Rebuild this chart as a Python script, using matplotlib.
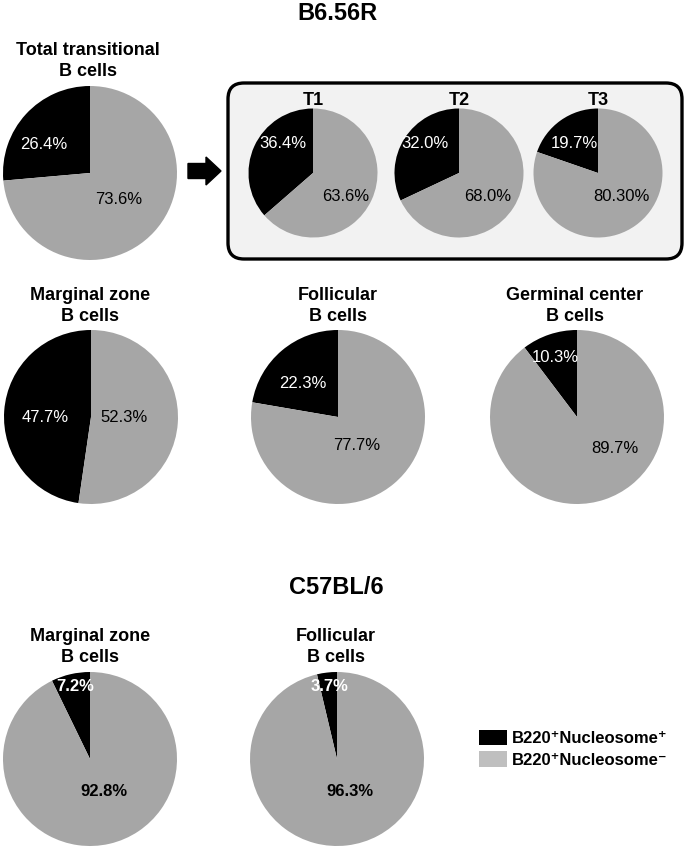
import matplotlib
matplotlib.use("Agg")
import matplotlib.pyplot as plt
from matplotlib.patches import FancyBboxPatch, FancyArrow, Patch

W, H = 685, 850
FONT = ['Liberation Sans Narrow', 'Liberation Sans', 'DejaVu Sans']
plt.rcParams['font.family'] = FONT

BLACK = '#000000'
GREY = '#a6a6a6'
LEGEND_GREY = '#bfbfbf'

# data
titles = ['Total transitional\nB cells', 'T1', 'T2', 'T3',
          'Marginal zone\nB cells', 'Follicular\nB cells', 'Germinal center\nB cells',
          'Marginal zone\nB cells', 'Follicular\nB cells']
pos_pct = [26.4, 36.4, 32.0, 19.7, 47.7, 22.3, 10.3, 7.2, 3.7]
neg_pct = [73.6, 63.6, 68.0, 80.3, 52.3, 77.7, 89.7, 92.8, 96.3]
pos_labels = ['26.4%', '36.4%', '32.0%', '19.7%', '47.7%', '22.3%', '10.3%', '7.2%', '3.7%']
neg_labels = ['73.6%', '63.6%', '68.0%', '80.30%', '52.3%', '77.7%', '89.7%', '92.8%', '96.3%']
strain_titles = ['B6.56R', 'C57BL/6']
legend_labels = ['B220\u207aNucleosome\u207a', 'B220\u207aNucleosome\u207b']

# layout (pixels from the top-left corner)
centers = [(90, 173), (313, 173), (459, 173), (598, 173),
           (91, 417), (338, 417), (577, 417),
           (90, 759), (337, 759)]
radii = [87, 64.5, 64.5, 64.5, 87, 87, 87, 87, 87]
title_pos = [(88, 61), (313, 100), (459, 100), (598, 100),
             (90, 306), (338, 306), (575, 306),
             (90, 647), (336, 647)]
# label offsets in units of the radius
pos_off = [(-0.53, 0.33), (-0.47, 0.45), (-0.53, 0.45), (-0.36, 0.45),
           (-0.53, 0.0), (-0.40, 0.39), (-0.25, 0.68),
           (-0.17, 0.83), (-0.08, 0.83)]
neg_off = [(0.33, -0.31), (0.50, -0.37), (0.45, -0.37), (0.36, -0.37),
           (0.38, 0.0), (0.21, -0.33), (0.44, -0.36),
           (0.16, -0.37), (0.15, -0.37)]
bold_labels = [False] * 7 + [True] * 2


def Y(p):
    return H - p


fig = plt.figure(figsize=(W / 100, H / 100), dpi=100)
ax = fig.add_axes([0, 0, 1, 1])

# T1-T3 panel
box = FancyBboxPatch((228, Y(259)), 454, 176,
                     boxstyle='round,pad=0,rounding_size=16',
                     fc='#f2f2f2', ec='black', lw=2.4, zorder=0)
ax.add_patch(box)
ax.add_patch(FancyArrow(188, Y(171), 33, 0, width=15, head_width=28,
                        head_length=15, length_includes_head=True,
                        color='black', zorder=1))

for i in range(len(titles)):
    cx, cy = centers[i]
    r = radii[i]
    ax.pie([pos_pct[i], neg_pct[i]], colors=[BLACK, GREY], startangle=90,
           counterclock=True, center=(cx, Y(cy)), radius=r,
           wedgeprops=dict(linewidth=0))
    w = 'bold' if bold_labels[i] else 'normal'
    ax.text(cx + pos_off[i][0] * r, Y(cy) + pos_off[i][1] * r, pos_labels[i],
            color='white', fontsize=12, fontweight=w, ha='center', va='center')
    ax.text(cx + neg_off[i][0] * r, Y(cy) + neg_off[i][1] * r, neg_labels[i],
            color='black', fontsize=12, fontweight=w, ha='center', va='center')
    tx, ty = title_pos[i]
    ax.text(tx, Y(ty), titles[i], fontsize=13, fontweight='bold',
            ha='center', va='center', linespacing=1.35)

ax.text(337, Y(13), strain_titles[0], fontsize=17, fontweight='bold',
        ha='center', va='center')
ax.text(336, Y(587), strain_titles[1], fontsize=17, fontweight='bold',
        ha='center', va='center')

handles = [Patch(fc=BLACK, ec='none'), Patch(fc=LEGEND_GREY, ec='none')]
ax.legend(handles, legend_labels, loc='upper left',
          bbox_to_anchor=(479 / W, 1 - 730 / H), frameon=False,
          prop=dict(family=FONT, weight='bold', size=12),
          handlelength=1.65, handleheight=1.05, handletextpad=0.35,
          labelspacing=0.3, borderpad=0, borderaxespad=0)

ax.set_xlim(0, W)
ax.set_ylim(0, H)
ax.set_aspect('auto')
ax.axis('off')

fig.savefig('out.png', dpi=100)
